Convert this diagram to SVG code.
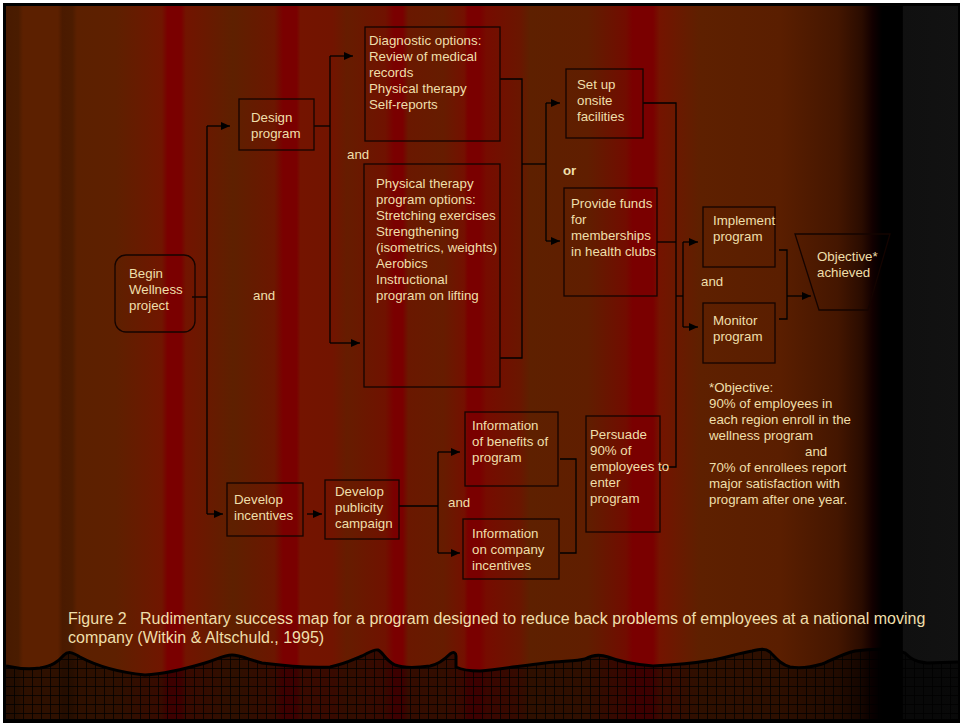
<svg xmlns="http://www.w3.org/2000/svg" width="963" height="723" viewBox="0 0 963 723">
<defs>
<linearGradient id="curtain" gradientUnits="userSpaceOnUse" x1="0" y1="0" x2="963" y2="0">
<stop offset="0.005" stop-color="#481a00"/>
<stop offset="0.019" stop-color="#4a1c00"/>
<stop offset="0.024" stop-color="#5c2000"/>
<stop offset="0.060" stop-color="#5c2000"/>
<stop offset="0.065" stop-color="#4a1a00"/>
<stop offset="0.075" stop-color="#4c1c00"/>
<stop offset="0.080" stop-color="#5c2000"/>
<stop offset="0.120" stop-color="#5e2000"/>
<stop offset="0.168" stop-color="#701600"/>
<stop offset="0.174" stop-color="#7a0000"/>
<stop offset="0.188" stop-color="#7a0000"/>
<stop offset="0.193" stop-color="#721400"/>
<stop offset="0.242" stop-color="#5e2000"/>
<stop offset="0.285" stop-color="#6c1600"/>
<stop offset="0.294" stop-color="#7a0000"/>
<stop offset="0.308" stop-color="#7a0000"/>
<stop offset="0.312" stop-color="#741400"/>
<stop offset="0.345" stop-color="#721400"/>
<stop offset="0.360" stop-color="#661c00"/>
<stop offset="0.400" stop-color="#701200"/>
<stop offset="0.409" stop-color="#7a0000"/>
<stop offset="0.418" stop-color="#7a0000"/>
<stop offset="0.424" stop-color="#6a1800"/>
<stop offset="0.460" stop-color="#661c00"/>
<stop offset="0.482" stop-color="#741000"/>
<stop offset="0.486" stop-color="#7a0000"/>
<stop offset="0.498" stop-color="#7a0000"/>
<stop offset="0.505" stop-color="#760c00"/>
<stop offset="0.540" stop-color="#6a1600"/>
<stop offset="0.550" stop-color="#5e2000"/>
<stop offset="0.610" stop-color="#601e00"/>
<stop offset="0.650" stop-color="#720c00"/>
<stop offset="0.657" stop-color="#7a0000"/>
<stop offset="0.678" stop-color="#7a0000"/>
<stop offset="0.685" stop-color="#741400"/>
<stop offset="0.727" stop-color="#5e2000"/>
<stop offset="0.810" stop-color="#5a1e00"/>
<stop offset="0.870" stop-color="#441600"/>
<stop offset="0.895" stop-color="#2a0c00"/>
<stop offset="0.906" stop-color="#120000"/>
<stop offset="0.916" stop-color="#000000"/>
<stop offset="0.937" stop-color="#000000"/>
<stop offset="0.938" stop-color="#101010"/>
<stop offset="1" stop-color="#121212"/>
</linearGradient>
<pattern id="grid" patternUnits="userSpaceOnUse" width="9" height="9" x="5" y="650">
<rect width="9" height="9" fill="#000" fill-opacity="0.5"/>
<path d="M0,0.5 H9 M0.5,0 V9" stroke="#000" stroke-opacity="0.75" stroke-width="1" fill="none"/>
</pattern>
<marker id="arr" markerUnits="userSpaceOnUse" markerWidth="10" markerHeight="8" refX="9" refY="4" orient="auto">
<path d="M0,0 L9,4 L0,8 z" fill="#000"/>
</marker>
<style>
text{font-family:"Liberation Sans",Arial,sans-serif;font-size:13.3px;fill:#efdfaa}
.cap{font-size:16px;white-space:pre}
.b{font-weight:bold}
.box{fill:none;stroke:#150400;stroke-width:1.3}
.con path{fill:none;stroke:#000;stroke-width:1.3}
.ar{marker-end:url(#arr)}
</style>
</defs>
<rect x="0" y="0" width="963" height="723" fill="#ffffff"/>
<rect x="3" y="3" width="957" height="720" fill="#000"/>
<rect x="6" y="6" width="952" height="713" fill="url(#curtain)"/>

<g id="floor">
<path d="M6,666 C15,668 25,670 40,668 C52,666 58,662 64,655 C68,651 72,652 80,657 C95,665 115,672 145,675 C165,674 185,669 205,663 C218,659 224,655 232,655 C240,655 250,660 262,663 C285,666 310,668 330,667 C345,664 352,660 362,656 C370,652 374,649 378,650 C383,652 385,660 395,665 C403,668 415,668 430,666 C440,664 446,658 450,654 C454,651 456,653 456,656 L456,667 C462,670 470,671 480,671 C500,669 520,666 545,663 C565,661 578,661 585,659 C592,655 600,654 608,657 C618,661 630,664 653,666 C675,665 695,663 713,660 C728,657 740,653 752,651 C760,649 765,648 770,652 C776,658 780,664 790,667 C802,669 812,667 822,664 C832,660 842,654 855,651 C870,649 895,648 905,653 C910,658 915,662 927,663 L958,662 L958,719 L6,719 Z" fill="url(#grid)" stroke="none"/>
<path d="M6,666 C15,668 25,670 40,668 C52,666 58,662 64,655 C68,651 72,652 80,657 C95,665 115,672 145,675 C165,674 185,669 205,663 C218,659 224,655 232,655 C240,655 250,660 262,663 C285,666 310,668 330,667 C345,664 352,660 362,656 C370,652 374,649 378,650 C383,652 385,660 395,665 C403,668 415,668 430,666 C440,664 446,658 450,654 C454,651 456,653 456,656 L456,667 C462,670 470,671 480,671 C500,669 520,666 545,663 C565,661 578,661 585,659 C592,655 600,654 608,657 C618,661 630,664 653,666 C675,665 695,663 713,660 C728,657 740,653 752,651 C760,649 765,648 770,652 C776,658 780,664 790,667 C802,669 812,667 822,664 C832,660 842,654 855,651 C870,649 895,648 905,653 C910,658 915,662 927,663 L958,662" fill="none" stroke="#000" stroke-width="3"/>
</g>

<g class="con" id="connectors">
<path d="M192,297 H207"/>
<path d="M207,126 V514"/>
<path class="ar" d="M207,126 H230"/>
<path class="ar" d="M207,514 H223"/>
<path d="M314,126 H330"/>
<path d="M330,56 V343"/>
<path class="ar" d="M330,56 H353"/>
<path class="ar" d="M330,343 H360"/>
<path d="M500,79 H522 V358 H500"/>
<path d="M522,164 H546"/>
<path d="M546,103 V241"/>
<path class="ar" d="M546,103 H560"/>
<path class="ar" d="M546,241 H560"/>
<path class="ar" d="M307,514 H322"/>
<path d="M399,506 H438"/>
<path d="M438,452 V553"/>
<path class="ar" d="M438,452 H460"/>
<path class="ar" d="M438,553 H460"/>
<path d="M560,459 H576 V553 H560"/>
<path d="M643,103 H676 V467 H660"/>
<path d="M657,242 H676"/>
<path d="M676,296 H683"/>
<path d="M683,242 V327"/>
<path class="ar" d="M683,242 H698"/>
<path class="ar" d="M683,327 H698"/>
<path d="M779,250 H787 V319 H779"/>
<path class="ar" d="M787,296 H811"/>
</g>

<g id="begin">
<rect class="box" x="115" y="255" width="80" height="77" rx="11"/>
<text x="129" y="278">Begin</text>
<text x="129" y="294">Wellness</text>
<text x="129" y="310">project</text>
</g>
<text x="253" y="300">and</text>

<g id="design">
<rect class="box" x="239" y="99" width="75" height="51"/>
<text x="251" y="122">Design</text>
<text x="251" y="138">program</text>
</g>

<g id="diagnostic">
<rect class="box" x="365" y="27" width="135" height="114"/>
<text x="369" y="45">Diagnostic options:</text>
<text x="369" y="61">Review of medical</text>
<text x="369" y="77">records</text>
<text x="369" y="93">Physical therapy</text>
<text x="369" y="109">Self-reports</text>
</g>
<text x="347" y="159">and</text>

<g id="pt-options">
<rect class="box" x="364" y="164" width="136" height="223"/>
<text x="376" y="188">Physical therapy</text>
<text x="376" y="204">program options:</text>
<text x="376" y="220">Stretching exercises</text>
<text x="376" y="236">Strengthening</text>
<text x="376" y="252">(isometrics, weights)</text>
<text x="376" y="268">Aerobics</text>
<text x="376" y="284">Instructional</text>
<text x="376" y="300">program on lifting</text>
</g>

<g id="setup">
<rect class="box" x="566" y="69" width="77" height="69"/>
<text x="577" y="89">Set up</text>
<text x="577" y="105">onsite</text>
<text x="577" y="121">facilities</text>
</g>
<text class="b" x="563" y="175">or</text>

<g id="funds">
<rect class="box" x="564" y="188" width="93" height="108"/>
<text x="571" y="208">Provide funds</text>
<text x="571" y="224">for</text>
<text x="571" y="240">memberships</text>
<text x="571" y="256">in health clubs</text>
</g>

<g id="implement">
<rect class="box" x="703" y="207" width="72" height="60"/>
<text x="713" y="225">Implement</text>
<text x="713" y="241">program</text>
</g>
<text x="701" y="286">and</text>

<g id="monitor">
<rect class="box" x="703" y="303" width="72" height="60"/>
<text x="713" y="325">Monitor</text>
<text x="713" y="341">program</text>
</g>

<g id="objective">
<polygon class="box" points="795,234 890,234 868,310 819,310"/>
<text x="817" y="261">Objective*</text>
<text x="817" y="277">achieved</text>
</g>

<g id="objective-note">
<text x="709" y="392">*Objective:</text>
<text x="709" y="408">90% of employees in</text>
<text x="709" y="424">each region enroll in the</text>
<text x="709" y="440">wellness program</text>
<text x="805" y="456">and</text>
<text x="709" y="472">70% of enrollees report</text>
<text x="709" y="488">major satisfaction with</text>
<text x="709" y="504">program after one year.</text>
</g>

<g id="incentives">
<rect class="box" x="227" y="483" width="76" height="53"/>
<text x="234" y="504">Develop</text>
<text x="234" y="520">incentives</text>
</g>

<g id="publicity">
<rect class="box" x="325" y="480" width="74" height="59"/>
<text x="335" y="496">Develop</text>
<text x="335" y="512">publicity</text>
<text x="335" y="528">campaign</text>
</g>
<text x="448" y="507">and</text>

<g id="info-benefits">
<rect class="box" x="465" y="412" width="93" height="74"/>
<text x="472" y="430">Information</text>
<text x="472" y="446">of benefits of</text>
<text x="472" y="462">program</text>
</g>

<g id="info-incentives">
<rect class="box" x="463" y="519" width="96" height="60"/>
<text x="472" y="538">Information</text>
<text x="472" y="554">on company</text>
<text x="472" y="570">incentives</text>
</g>

<g id="persuade">
<rect class="box" x="586" y="416" width="74" height="116"/>
<text x="590" y="439">Persuade</text>
<text x="590" y="455">90% of</text>
<text x="590" y="471">employees to</text>
<text x="590" y="487">enter</text>
<text x="590" y="503">program</text>
</g>

<g id="caption">
<text class="cap" x="68" y="624">Figure 2   Rudimentary success map for a program designed to reduce back problems of employees at a national moving</text>
<text class="cap" x="68" y="643">company (Witkin &amp; Altschuld., 1995)</text>
</g>
</svg>
